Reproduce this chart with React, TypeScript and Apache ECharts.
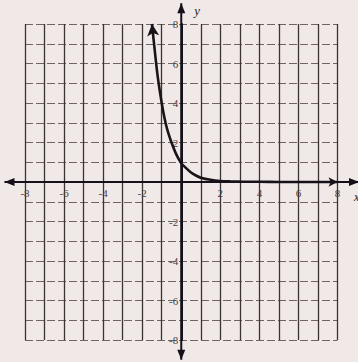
import React, { useEffect, useRef } from 'react';
import * as echarts from 'echarts';

// Curve points
const curveX = [-1.5, -1.35, -1.2, -1.0, -0.85, -0.7, -0.5, -0.3, -0.15, 0, 0.25, 0.5, 0.75, 1, 1.5, 2, 2.5, 3, 4, 5, 6, 7, 8];
const curveY = [8, 6.6, 5.3, 4.0, 3.2, 2.6, 2.0, 1.5, 1.2, 0.95, 0.7, 0.48, 0.33, 0.22, 0.11, 0.05, 0.03, 0.02, 0.01, 0, 0, 0, 0];

// Axis range and labelled ticks
const axisMin = -8;
const axisMax = 8;
const xLabelValues = [-8, -6, -4, -2, 2, 4, 6, 8];
const yLabelValues = [-8, -6, -4, -2, 2, 4, 6, 8];

export default function App() {
  const ref = useRef<HTMLDivElement>(null);
  useEffect(() => {
    document.body.style.margin = '0';
    const chart = echarts.init(ref.current!, null, { renderer: 'svg' });
    const last = curveX.length - 1;
    const data = curveX.map((x, i) => {
      if (i === 0) {
        return { value: [x, curveY[i]], symbol: 'arrow', symbolSize: [9, 12], symbolRotate: 6 };
      }
      if (i === last) {
        return { value: [x, curveY[i]], symbol: 'arrow', symbolSize: [7, 9], symbolRotate: -90 };
      }
      return { value: [x, curveY[i]], symbol: 'none' };
    });
    const labelFont = {
      fontFamily: 'Liberation Serif',
      fontSize: 11,
      color: '#4a4242',
    };
    chart.setOption({
      animation: false,
      backgroundColor: '#f1e9e7',
      grid: { left: 25, right: 20.5, top: 24, bottom: 22 },
      xAxis: {
        type: 'value',
        min: axisMin,
        max: axisMax,
        interval: 1,
        position: 'bottom',
        axisLine: { show: true, onZero: false, lineStyle: { color: '#15101a', width: 2 } },
        axisTick: { show: false },
        axisLabel: {
          ...labelFont,
          margin: 5,
          showMinLabel: true,
          showMaxLabel: true,
          formatter: (v: number) => (xLabelValues.includes(v) ? String(v) : ''),
        },
        splitLine: { show: true, lineStyle: { color: '#3b3434', width: 1.3 } },
      },
      yAxis: {
        type: 'value',
        min: axisMin,
        max: axisMax,
        interval: 1,
        position: 'left',
        axisLine: { show: true, onZero: false, lineStyle: { color: '#15101a', width: 2 } },
        axisTick: { show: false },
        axisLabel: {
          ...labelFont,
          margin: 3,
          verticalAlign: 'middle',
          padding: [5, 0, 0, 0],
          showMinLabel: true,
          showMaxLabel: true,
          formatter: (v: number) => (yLabelValues.includes(v) ? String(v) : ''),
        },
        splitLine: { show: true, lineStyle: { color: '#6e6464', width: 1.1, type: [8, 3] } },
      },
      series: [
        {
          type: 'line',
          data,
          smooth: 0.3,
          clip: false,
          showSymbol: true,
          itemStyle: { color: '#1a1418' },
          lineStyle: { color: '#1a1418', width: 2.6 },
        },
      ],
    });

    const p = (x: number, y: number) => chart.convertToPixel({ gridIndex: 0 }, [x, y]) as number[];
    const o = p(0, 0);
    const gridBottom = p(0, axisMin)[1];
    const gridLeft = p(axisMin, 0)[0];
    const left = p(-9.05, 0);
    const right = p(9.1, 0);
    const top = p(0, 9.05);
    const bottom = p(0, -9.0);
    const axisStyle = { stroke: '#15101a', lineWidth: 2 };
    const headStyle = { fill: '#15101a' };
    chart.setOption({
      xAxis: { offset: o[1] - gridBottom },
      yAxis: { offset: gridLeft - o[0] },
      graphic: [
        { type: 'line', shape: { x1: left[0], y1: o[1], x2: right[0], y2: o[1] }, style: axisStyle, z: 10 },
        { type: 'line', shape: { x1: o[0], y1: top[1], x2: o[0], y2: bottom[1] }, style: axisStyle, z: 10 },
        { type: 'polygon', shape: { points: [[left[0], o[1]], [left[0] + 10, o[1] - 4], [left[0] + 10, o[1] + 4]] }, style: headStyle, z: 10 },
        { type: 'polygon', shape: { points: [[right[0], o[1]], [right[0] - 10, o[1] - 4], [right[0] - 10, o[1] + 4]] }, style: headStyle, z: 10 },
        { type: 'polygon', shape: { points: [[o[0], top[1]], [o[0] - 4, top[1] + 10], [o[0] + 4, top[1] + 10]] }, style: headStyle, z: 10 },
        { type: 'polygon', shape: { points: [[o[0], bottom[1]], [o[0] - 4, bottom[1] - 10], [o[0] + 4, bottom[1] - 10]] }, style: headStyle, z: 10 },
        {
          type: 'text',
          x: o[0] + 13,
          y: top[1] + 1,
          style: { text: 'y', font: 'italic 13px "Liberation Serif"', fill: '#2a2222' },
          z: 10,
        },
        {
          type: 'text',
          x: right[0] - 5,
          y: o[1] + 9,
          style: { text: 'x', font: 'italic 12px "Liberation Serif"', fill: '#2a2222' },
          z: 10,
        },
      ],
    });
    return () => chart.dispose();
  }, []);
  return <div ref={ref} style={{ width: 358, height: 362 }} />;
}
